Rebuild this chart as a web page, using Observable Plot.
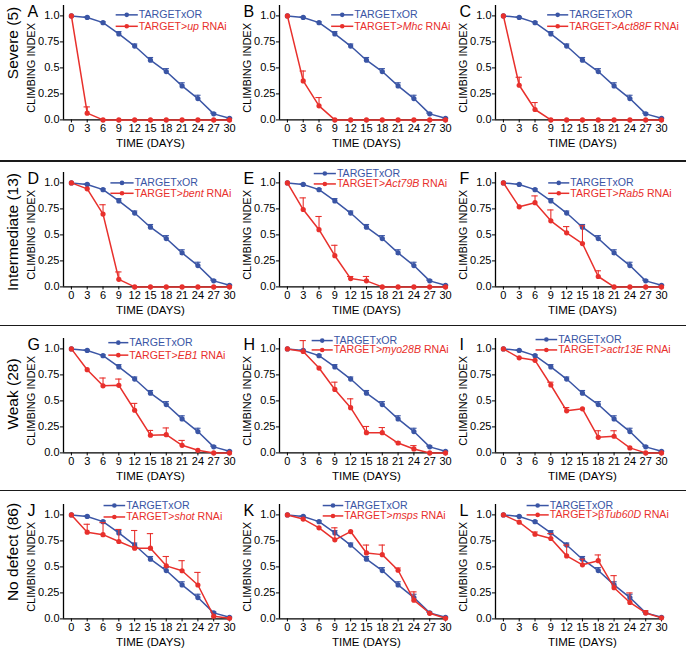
<!DOCTYPE html>
<html><head><meta charset="utf-8">
<script src="https://cdn.jsdelivr.net/npm/d3@7"></script>
<script src="https://cdn.jsdelivr.net/npm/@observablehq/plot@0.6"></script>
<style>
body{margin:0;background:#fff;font-family:"Liberation Sans",Arial,sans-serif;}
#fig{position:relative;width:686px;height:655px;overflow:hidden;background:#fff;}
.panel{position:absolute;width:240px;}
.rowlab{position:absolute;left:13px;transform:translate(-50%,-50%) rotate(-90deg);font-size:15.5px;white-space:nowrap;color:#000;}
.sep{position:absolute;left:0;width:686px;height:1.5px;background:#1a1a1a;}
</style></head><body><div id="fig"></div>
<script>
// ---- data ----
const days = [0,3,6,9,12,15,18,21,24,27,30];
const yTicks = [0,0.25,0.5,0.75,1];
const yTickLabels = ["0.0","0.25","0.5","0.75","1.0"];
const controlLabel = "TARGETxOR";
const controlMean = [1.0,0.985,0.935,0.827,0.71,0.574,0.465,0.327,0.205,0.058,0.015];
const controlErr  = [0,0.005,0.008,0.022,0.02,0.026,0.028,0.03,0.032,0.008,0.004];

const upMean      = [1,0.065,0,0,0,0,0,0,0,0,0];
const upErr       = [0,0.06,0,0,0,0,0,0,0,0,0];
const mhcMean     = [1,0.375,0.135,0,0,0,0,0,0,0,0];
const mhcErr      = [0,0.095,0.08,0,0,0,0,0,0,0,0];
const act88fMean  = [1,0.333,0.10,0,0,0,0,0,0,0,0];
const act88fErr   = [0,0.077,0.067,0,0,0,0,0,0,0,0];
const bentMean    = [1,0.943,0.70,0.073,0,0,0,0,0,0,0];
const bentErr     = [0,0,0.09,0.071,0,0,0,0,0,0,0];
const act79bMean  = [1,0.744,0.55,0.30,0.08,0.058,0,0,0,0,0];
const act79bErr   = [0,0.112,0.127,0.10,0.02,0.042,0,0,0,0,0];
const rab5Mean    = [1,0.77,0.81,0.635,0.52,0.417,0.10,0,0,0,0];
const rab5Err     = [0,0,0.065,0.105,0.06,0.17,0.055,0,0,0,0];
const eb1Mean     = [1,0.80,0.645,0.65,0.41,0.17,0.175,0.073,0.025,0,0];
const eb1Err      = [0,0,0.075,0.06,0.066,0.046,0.065,0.047,0,0,0];
const myo28bMean  = [1,0.975,0.816,0.61,0.435,0.194,0.194,0.095,0.038,0,0];
const myo28bErr   = [0,0.105,0,0.07,0.085,0.06,0.05,0.01,0.032,0,0];
const actr13eMean = [1,0.914,0.89,0.653,0.405,0.424,0.15,0.16,0.048,0,0];
const actr13eErr  = [0,0,0,0.027,0.031,0,0.063,0.053,0,0,0];
const shotMean    = [1,0.834,0.81,0.744,0.68,0.68,0.51,0.463,0.326,0.026,0.006];
const shotErr     = [0,0.076,0.116,0.116,0.17,0.14,0.09,0.097,0.121,0,0];
const mspsMean    = [1,0.96,0.876,0.76,0.84,0.634,0.618,0.468,0.18,0.054,0.006];
const mspsErr     = [0,0,0,0.116,0,0.076,0.092,0.022,0.08,0,0];
const tubMean     = [1,0.93,0.814,0.773,0.606,0.52,0.56,0.30,0.158,0.057,0.01];
const tubErr      = [0,0,0.022,0.047,0.104,0.054,0.055,0.116,0.092,0.023,0];

const panelLetters = ["A","B","C","D","E","F","G","H","I","J","K","L"];
const genePrefix = ["","","","","","","","","","","","\u03B2"];
const geneNames = ["up","Mhc","Act88F","bent","Act79B","Rab5","EB1","myo28B","actr13E","shot","msps","Tub60D"];
const rowLabels = ["Severe (5)","Intermediate (13)","Weak (28)","No defect (86)"];

const means = [upMean,mhcMean,act88fMean,bentMean,act79bMean,rab5Mean,eb1Mean,myo28bMean,actr13eMean,shotMean,mspsMean,tubMean];
const errs  = [upErr,mhcErr,act88fErr,bentErr,act79bErr,rab5Err,eb1Err,myo28bErr,actr13eErr,shotErr,mspsErr,tubErr];

// ---- layout (positions / styles) ----
const BLUE = "#3a55a5", RED = "#e8302c";
const colLeft = [0,216,432];
const rowTop = [0,167,333,499];
const rowLabelY = [43,232,394,552];
const sepY = [161,325.5,490.5];
// legend: [x1 day, x2 day, y control, y rnai]
const legendPos = [
  [8.4,12.6,1.01,0.9],[8.3,12.5,1.01,0.9],[8.3,12.3,1.01,0.9],
  [7.4,11.8,1.0,0.9],[5.0,9.2,1.09,0.99],[8.5,12.5,1.0,0.9],
  [7.0,10.8,1.06,0.94],[4.6,8.6,1.08,0.99],[6.1,10.2,1.09,0.99],
  [6.1,10.2,1.09,0.98],[6.7,10.6,1.09,0.99],[4.4,8.6,1.09,1.0]
];

const fig = document.getElementById("fig");

function errMarks(rows, color){
  const e = rows.filter(d => d.e > 0);
  return [
    Plot.ruleX(e, {x:"x", y1:"y", y2:d => d.y + d.e, stroke:color, strokeWidth:1.1}),
    Plot.ruleY(e, {y:d => d.y + d.e, x1:d => d.x - 0.6, x2:d => d.x + 0.6, stroke:color, strokeWidth:1.1})
  ];
}

function makePanel(i){
  const ctrl = days.map((d,j) => ({x:d, y:controlMean[j], e:controlErr[j]}));
  const rn = days.map((d,j) => ({x:d, y:means[i][j], e:errs[i][j]}));
  const L = legendPos[i];
  const redLabel = "TARGET>" + genePrefix[i] + geneNames[i] + " RNAi";
  const legC = [{x1:L[0], x2:L[1], y:L[2], t:controlLabel}];
  const legR = [{x1:L[0], x2:L[1], y:L[3], t:redLabel}];
  const svg = Plot.plot({
    width: 240, height: 160,
    marginLeft: 63, marginRight: 9.4, marginTop: 5, marginBottom: 40.6,
    style: {background:"transparent", overflow:"visible", fontFamily:"'Liberation Sans', Arial, sans-serif", fontSize:"11px", color:"#000"},
    x: {domain:[-1.5,30.3], ticks: days, tickFormat: d => String(d), tickSize:3, tickPadding:1, label:null},
    y: {domain:[0,1.1], ticks: yTicks, tickFormat: d => yTickLabels[yTicks.indexOf(d)], tickSize:3, tickPadding:1, label:null},
    marks: [
      Plot.ruleY([0], {stroke:"#000", strokeWidth:1.3}),
      Plot.ruleX([-1.5], {stroke:"#000", strokeWidth:1.3}),
      ...errMarks(ctrl, BLUE),
      Plot.line(ctrl, {x:"x", y:"y", stroke:BLUE, strokeWidth:1.5}),
      Plot.dot(ctrl, {x:"x", y:"y", r:2.6, fill:BLUE}),
      ...errMarks(rn, RED),
      Plot.line(rn, {x:"x", y:"y", stroke:RED, strokeWidth:1.5}),
      Plot.dot(rn, {x:"x", y:"y", r:2.6, fill:RED}),
      Plot.link(legC, {x1:"x1", x2:"x2", y1:"y", y2:"y", stroke:BLUE, strokeWidth:1.5}),
      Plot.dot(legC, {x:d => (d.x1 + d.x2) / 2, y:"y", r:2.3, fill:BLUE}),
      Plot.text(legC, {x:"x2", y:"y", text:"t", fill:BLUE, textAnchor:"start", dx:1, fontSize:10.6}),
      Plot.link(legR, {x1:"x1", x2:"x2", y1:"y", y2:"y", stroke:RED, strokeWidth:1.5}),
      Plot.dot(legR, {x:d => (d.x1 + d.x2) / 2, y:"y", r:2.3, fill:RED}),
      Plot.text(legR, {x:"x2", y:"y", text:"t", fill:RED, textAnchor:"start", dx:1, fontSize:10.6}),
      Plot.text(["CLIMBING INDEX"], {x:() => -1.5, y:() => 0.5, rotate:-90, dx:-32, fontSize:11}),
      Plot.text(["TIME (DAYS)"], {x:() => 15, y:() => 0, dy:23, fontSize:11.5}),
      Plot.text([panelLetters[i]], {x:() => -1.5, y:() => 1.0, dx:-36, dy:1, textAnchor:"start", lineAnchor:"bottom", fontSize:16})
    ]
  });
  // italicize the gene name inside the red legend label
  d3.select(svg).selectAll("text").each(function(){
    if (this.textContent === redLabel) {
      const t = d3.select(this);
      t.text(null);
      t.append("tspan").text("TARGET>" + genePrefix[i]);
      t.append("tspan").attr("font-style","italic").text(geneNames[i]);
      t.append("tspan").text(" RNAi");
    }
  });
  const wrap = document.createElement("div");
  wrap.className = "panel";
  wrap.style.left = colLeft[i % 3] + "px";
  wrap.style.top = rowTop[Math.floor(i / 3)] + "px";
  wrap.appendChild(svg);
  fig.appendChild(wrap);
}

for (let i = 0; i < 12; i++) makePanel(i);

rowLabels.forEach((lab, r) => {
  const d = document.createElement("div");
  d.className = "rowlab";
  d.style.top = rowLabelY[r] + "px";
  d.textContent = lab;
  fig.appendChild(d);
});
sepY.forEach(y => {
  const s = document.createElement("div");
  s.className = "sep";
  s.style.top = (y - 0.75) + "px";
  fig.appendChild(s);
});
</script>
</body></html>
